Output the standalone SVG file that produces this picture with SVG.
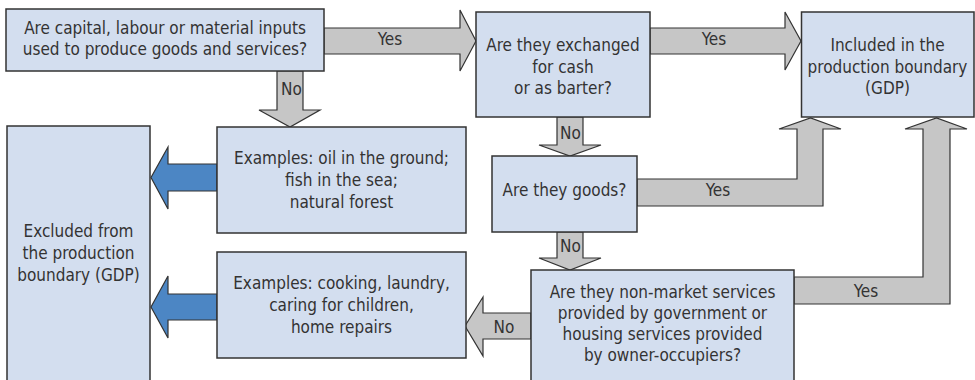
<svg xmlns="http://www.w3.org/2000/svg" width="975" height="380" viewBox="0 0 975 380">
<style>
.box{fill:#d3deef;stroke:#333;stroke-width:1.5}
.ga{fill:#c6c6c6;stroke:#333;stroke-width:1.2;stroke-linejoin:miter}
.ba{fill:#4c86c4;stroke:#333;stroke-width:1.2}
text{font-family:"Liberation Sans Narrow","DejaVu Sans Condensed","Liberation Sans",sans-serif;font-size:17px;fill:#333;text-anchor:middle}
.lbl{text-anchor:start}
</style>
<rect width="975" height="380" fill="#fff"/>
<g id="connectors">
<polygon class="ga" points="324,28 460,28 460,10 476,41 460,71 460,54 324,54"/>
<polygon class="ga" points="650,28 785,28 785,12 801,41 785,70 785,54 650,54"/>
<polygon class="ga" points="277,71 303,71 303,110 320,110 290,127 259,110 277,110"/>
<polygon class="ga" points="557,117 583,117 583,145 601,145 570,156 539,145 557,145"/>
<polygon class="ga" points="557,232 583,232 583,258 601,258 570,270 539,258 557,258"/>
<polygon class="ga" points="637,179 797,179 797,129 779,129 810.5,118 841,129 823,129 823,206 637,206"/>
<polygon class="ga" points="794,277 923,277 923,129 905,129 936.5,118 967,129 950,129 950,304 794,304"/>
<polygon class="ga" points="531,313 483,313 483,297 465,326 483,356 483,339 531,339"/>
<polygon class="ba" points="217,164 168,164 168,147 151,177.5 168,209 168,191 217,191"/>
<polygon class="ba" points="217,294 168,294 168,276 151,307 168,338 168,320 217,320"/>
<text x="390" y="45">Yes</text>
<text x="714" y="45">Yes</text>
<text x="718" y="196">Yes</text>
<text x="866" y="297">Yes</text>
<text class="lbl" x="281" y="95">No</text>
<text class="lbl" x="560" y="139">No</text>
<text class="lbl" x="560" y="252">No</text>
<text x="504" y="333">No</text>
</g>
<g id="q-inputs">
<rect class="box" x="6" y="9" width="318" height="62"/>
<text x="165" y="34">Are capital, labour or material inputs</text>
<text x="165" y="55">used to produce goods and services?</text>
</g>
<g id="q-exchanged">
<rect class="box" x="476" y="12" width="174" height="105"/>
<text x="563" y="51">Are they exchanged</text>
<text x="563" y="72.5">for cash</text>
<text x="563" y="94">or as barter?</text>
</g>
<g id="included">
<rect class="box" x="801.5" y="12" width="172.5" height="105"/>
<text x="887.5" y="51">Included in the</text>
<text x="887.5" y="72.5">production boundary</text>
<text x="887.5" y="94">(GDP)</text>
</g>
<g id="excluded">
<rect class="box" x="7" y="126" width="143" height="260"/>
<text x="78.5" y="236.5">Excluded from</text>
<text x="78.5" y="258.5">the production</text>
<text x="78.5" y="280.5">boundary (GDP)</text>
</g>
<g id="examples-natural">
<rect class="box" x="217" y="127" width="249" height="106"/>
<text x="341.5" y="164">Examples: oil in the ground;</text>
<text x="341.5" y="186">fish in the sea;</text>
<text x="341.5" y="208">natural forest</text>
</g>
<g id="q-goods">
<rect class="box" x="492" y="156" width="145" height="76"/>
<text x="564.5" y="196">Are they goods?</text>
</g>
<g id="examples-household">
<rect class="box" x="217" y="252" width="249" height="106"/>
<text x="341.5" y="289">Examples: cooking, laundry,</text>
<text x="341.5" y="311">caring for children,</text>
<text x="341.5" y="333">home repairs</text>
</g>
<g id="q-nonmarket">
<rect class="box" x="531" y="270" width="263" height="115"/>
<text x="662.5" y="298">Are they non-market services</text>
<text x="662.5" y="319">provided by government or</text>
<text x="662.5" y="340">housing services provided</text>
<text x="662.5" y="361">by owner-occupiers?</text>
</g>
</svg>
